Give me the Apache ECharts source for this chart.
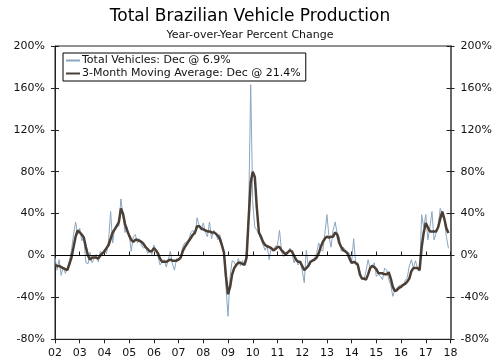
<!DOCTYPE html>
<html><head><meta charset="utf-8">
<script src="https://cdn.jsdelivr.net/npm/echarts@6/dist/echarts.min.js"></script>
<style>html,body{margin:0;padding:0;background:#fff}#c{width:500px;height:364px}</style>
</head><body><div id="c"></div>
<script>
const startYear = 2002;
const yearLabels = ['02','03','04','05','06','07','08','09','10','11','12','13','14','15','16','17','18'];
// Monthly YoY % change, Jan 2002 .. Dec 2017
const totalVehicles = [
 -2,-14,-4,-19,-11,-17,-12,-5,5,20,32,20,
 26,14,17,-7,-8,3,-7,-3,1,-6,4,2,
 6,2,14,42,12,27,30,28,54,38,22,27,
 20,4,18,20,12,16,10,7,8,2,5,1,
 10,4,-1,-9,-6,-4,-11,-4,4,-8,-14,-3,
 -4,-1,8,12,13,16,22,24,20,36,28,24,
 31,22,18,32,16,24,22,15,20,12,3,-30,
 -58,-20,-5,-6,-11,-3,-10,-5,-9,5,40,163,
 50,27,24,20,15,10,5,9,-4,8,5,9,
 10,24,4,-1,3,2,7,3,-7,-2,-9,-6,
 -14,-26,5,-11,-8,-4,-2,2,12,6,4,21,
 39,18,8,24,32,21,18,4,8,5,3,2,
 -6,16,-9,-7,-15,-23,-23,-15,-4,-12,-10,-7,
 -20,-18,-20,-23,-12,-14,-23,-28,-39,-33,-31,-29,
 -28,-29,-24,-21,-10,-4,-12,-5,-12,-15,39,27,
 39,15,27,42,15,21,28,45,40,34,18,6.9
];
const movingAverage = [
 -9,-10,-10,-11,-12,-13,-14,-8,-2,8,18,24,
 22,20,17,8,0,-4,-2,-2,-2,-3,0,2,
 4,7,10,16,22,25,28,32,45,40,30,24,
 19,15,13,15,15,14,13,11,8,6,4,4,
 7,5,2,-3,-6,-6,-6,-5,-4,-5,-5,-5,
 -4,-2,4,8,11,14,17,20,22,28,28,26,
 25,24,23,23,22,22,21,19,16,10,3,-20,
 -37,-30,-18,-12,-9,-7,-7,-8,-9,-2,35,70,
 80,75,45,22,18,13,10,9,8,7,5,6,
 8,8,5,3,1,3,5,4,0,-4,-6,-6,
 -10,-14,-12,-10,-6,-5,-4,-2,2,8,13,16,
 18,17,18,18,22,20,12,8,5,4,2,-3,
 -7,-6,-7,-9,-18,-22,-22,-23,-18,-12,-10,-11,
 -13,-17,-17,-17,-18,-18,-16,-22,-30,-34,-33,-31,
 -30,-28,-27,-25,-22,-15,-12,-12,-12,-14,8,22,
 31,27,23,23,23,23,27,35,42,35,26,21.4
];
const seriesNames = ['Total Vehicles: Dec @ 6.9%','3-Month Moving Average: Dec @ 21.4%'];

const toPairs = arr => arr.map((v,i)=>[startYear + i/12, v]);
const font = 'DejaVu Sans';
const txt = '#111';
const chart = echarts.init(document.getElementById('c'));
const yCommon = {type:'value', min:-80, max:200, interval:40, splitLine:{show:false}};
chart.setOption({
  animation:false,
  backgroundColor:'#fff',
  title:[
    {text:'Total Brazilian Vehicle Production', left:'center', top:3,
     textStyle:{fontFamily:font, fontSize:17, fontWeight:'normal', color:'#000'}},
    {text:'Year-over-Year Percent Change', left:'center', top:25,
     textStyle:{fontFamily:font, fontSize:11, fontWeight:'normal', color:txt}}
  ],
  legend:{
    orient:'vertical', left:63, top:53, itemWidth:14, itemHeight:11, itemGap:2,
    padding:[2,5,2,2], backgroundColor:'#fff', borderColor:'#000', borderWidth:1,
    itemStyle:{opacity:0},
    textStyle:{fontFamily:font, fontSize:11, color:txt, padding:[0,0,0,-3]},
    data:seriesNames
  },
  grid:{left:55, right:49.5, top:46, bottom:24.7, show:true, borderColor:'#222', borderWidth:1},
  xAxis:[
    {type:'value', min:2002, max:2018, interval:1,
     axisLine:{onZero:false, lineStyle:{color:'#222'}},
     axisTick:{length:4, lineStyle:{color:'#222'}},
     axisLabel:{fontFamily:font, fontSize:11, color:txt, margin:8,
       formatter:v=>yearLabels[Math.round(v-startYear)]},
     splitLine:{show:false}},
    {type:'value', min:2002, max:2018, interval:1, position:'bottom',
     axisLine:{show:false}, axisLabel:{show:false},
     axisTick:{inside:true, length:4, lineStyle:{color:'#222'}}, splitLine:{show:false}}
  ],
  yAxis:[
    Object.assign({}, yCommon, {position:'left',
      axisLine:{show:true, lineStyle:{color:'#222'}},
      axisTick:{show:true, length:4, lineStyle:{color:'#222'}},
      axisLabel:{fontFamily:font, fontSize:11, color:txt, margin:10, formatter:'{value}%'}}),
    Object.assign({}, yCommon, {position:'right',
      axisLine:{show:true, lineStyle:{color:'#666', width:2}},
      axisTick:{show:true, length:4, lineStyle:{color:'#222'}},
      axisLabel:{fontFamily:font, fontSize:11, color:txt, margin:10, formatter:'{value}%'}}),
    Object.assign({}, yCommon, {position:'left', axisLine:{show:false}, axisLabel:{show:false},
      axisTick:{show:true, inside:true, length:4, lineStyle:{color:'#222'}}}),
    Object.assign({}, yCommon, {position:'right', axisLine:{show:false}, axisLabel:{show:false},
      axisTick:{show:true, inside:true, length:4, lineStyle:{color:'#222'}}})
  ],
  series:[
    {name:seriesNames[0], type:'line', data:toPairs(totalVehicles), showSymbol:false, symbol:'none',
     lineStyle:{color:'#8aa6c0', width:1}, itemStyle:{color:'#8aa6c0'}, z:2,
     markLine:{silent:true, symbol:'none', label:{show:false},
       lineStyle:{color:'#000', width:1, type:'solid'}, data:[{yAxis:0}]}},
    {name:seriesNames[1], type:'line', data:toPairs(movingAverage), showSymbol:false, symbol:'none',
     lineStyle:{color:'#4a3e35', width:2.5}, itemStyle:{color:'#4a3e35'}, z:3}
  ]
});
</script></body></html>
